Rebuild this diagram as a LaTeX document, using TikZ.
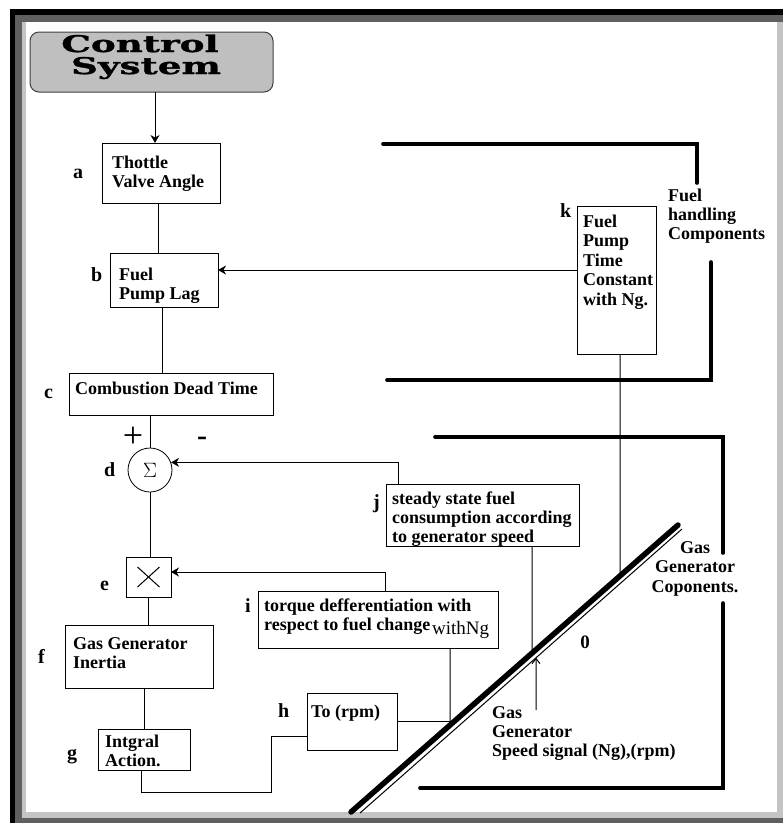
\documentclass[tikz,border=0pt]{standalone}
\usepackage{fontspec}
\setmainfont{Liberation Serif}
\newfontfamily\titlefont[FakeStretch=1.62,FakeBold=1.5]{DejaVu Serif}
\usetikzlibrary{arrows.meta}
\definecolor{fdark}{HTML}{5F5F5F}
\definecolor{flight}{HTML}{C4C4C4}
\definecolor{ttl}{HTML}{BFBFBF}
\begin{document}
\begin{tikzpicture}[x=1pt,y=-1pt,
  box/.style={draw, line width=1pt, inner sep=0pt, outer sep=0pt, anchor=north west},
  txt/.style={anchor=base west, inner sep=0pt, align=left, font=\bfseries\fontsize{18}{19}\selectfont},
  lbl/.style={anchor=base west, inner sep=0pt, font=\bfseries\fontsize{20}{20}\selectfont},
  wire/.style={line width=1pt},
  arr/.style={wire, -{Stealth[length=8pt,width=9pt,inset=2.5pt]}},
  barb/.style={wire, -{Straight Barb[length=5pt,width=8pt]}},
  heavy/.style={line width=3.6pt, line cap=round}]
\useasboundingbox (0,0) rectangle (783,823);
% frame
\fill[white] (0,0) rectangle (783,823);
\fill[fdark] (10,9) rectangle (783,823);
\fill[black] (10,9) rectangle (783,15);
\fill[black] (10,9) rectangle (15,823);
\fill[flight] (22,22) rectangle (783,818);
\fill[white] (26,22) rectangle (777,812);

% title
\node[box, rounded corners=9pt, fill=ttl, draw=black!75, minimum width=243pt, minimum height=60pt] (title) at (30,32) {};
\node[anchor=base, inner sep=0pt, font=\titlefont\bfseries\fontsize{23}{23}\selectfont] (tt1) at (140,52) {Control};
\node[anchor=base, inner sep=0pt, font=\titlefont\bfseries\fontsize{23}{23}\selectfont] (tt2) at (146,74) {System};

% blocks (multi-line text anchored at the baseline of its last line)
\node[box, minimum width=118pt, minimum height=60pt] (a) at (102,143) {};
\node[txt] (ta) at (112,187) {Thottle\\Valve Angle};
\node[lbl] (la) at (73,178) {a};

\node[box, minimum width=108pt, minimum height=54pt] (b) at (110,253) {};
\node[txt] (tb) at (119,299) {Fuel\\Pump Lag};
\node[lbl] (lb) at (91,281) {b};

\node[box, minimum width=204pt, minimum height=42pt] (c) at (69,373) {};
\node[txt] (tc) at (75,394) {Combustion Dead Time};
\node[lbl] (lc) at (44,398) {c};

\node[draw, circle, minimum size=44pt, inner sep=0pt, line width=0.8pt] (d) at (150,470) {};
\node[inner sep=0pt, font=\fontsize{20}{20}\selectfont] (sig) at (150,470) {$\Sigma$};
\node[lbl] (ld) at (104,476) {d};
\node[inner sep=0pt, font=\fontsize{36}{36}\selectfont] (plus) at (133,437) {+};
\node[inner sep=0pt, font=\bfseries\fontsize{30}{30}\selectfont] (minus) at (202,441) {-};

\node[box, minimum width=45pt, minimum height=40pt] (e) at (126,557) {};
\draw[wire] ([shift={(-11,-10)}]e.center) -- ([shift={(11,10)}]e.center);
\draw[wire] ([shift={(-11,10)}]e.center) -- ([shift={(11,-10)}]e.center);
\node[lbl] (le) at (100,590) {e};

\node[box, minimum width=148pt, minimum height=63pt] (f) at (65,625) {};
\node[txt] (tf) at (73,668) {Gas Generator\\Inertia};
\node[lbl] (lf) at (38,663) {f};

\node[box, minimum width=92pt, minimum height=41pt] (g) at (98,729) {};
\node[txt] (tg) at (105,766) {Intgral\\Action.};
\node[lbl] (lg) at (67,759) {g};

\node[box, minimum width=90pt, minimum height=57pt] (h) at (307,693) {};
\node[txt] (th) at (311,717) {To (rpm)};
\node[lbl] (lh) at (278,717) {h};

\node[box, minimum width=240pt, minimum height=57pt] (i) at (258,591) {};
\node[txt] (ti) at (264,630) {torque defferentiation with\\respect to fuel change};
\node[anchor=base west, inner sep=0pt, font=\fontsize{19}{19}\selectfont] (tiw) at (432,634) {withNg};
\node[lbl] (li) at (245,612) {i};

\node[box, minimum width=193pt, minimum height=62pt] (j) at (386,484) {};
\node[txt] (tj) at (392,542) {steady state fuel\\consumption according\\to generator speed};
\node[lbl] (lj) at (373,508) {j};

\node[box, minimum width=79pt, minimum height=148pt] (k) at (577,206) {};
\node[txt, font=\bfseries\fontsize{18}{19.5}\selectfont] (tk) at (583,305) {Fuel\\Pump\\Time\\Constant\\with Ng.};
\node[lbl] (lk) at (560,217) {k};

% group labels
\node[txt] (fh) at (668,239) {Fuel\\handling\\Components};
\node[anchor=base, inner sep=0pt, align=center, font=\bfseries\fontsize{18}{19.5}\selectfont] (gg) at (695,592) {Gas\\Generator\\Coponents.};
\node[anchor=base, inner sep=0pt, font=\bfseries\fontsize{19}{19}\selectfont] (zero) at (585,648) {0};
\node[txt] (sp) at (492,756) {Gas\\Generator\\Speed signal (Ng),(rpm)};

% brackets
\draw[heavy] (383,144) -- (697,144) -- (697,183);
\draw[heavy] (387,380) -- (711,380) -- (711,262);
\draw[heavy] (435,437) -- (723,437) -- (723,553);
\draw[heavy] (723,603) -- (723,788) -- (420,788);

% diagonal
\coordinate (D1) at (351,812);
\coordinate (D2) at (678,525);
\coordinate (E1) at (360,813);
\coordinate (E2) at (682,529);
\draw[line width=5.5pt, line cap=round] (D1) -- (D2);
\draw[line width=1pt] (E1) -- (E2);

% connectors
\coordinate (a_in) at ([xshift=-6pt]a.north);
\draw[arr] (a_in |- title.south) -- (a_in);
\coordinate (a_out) at ([xshift=-3pt]a.south);
\draw[wire] (a_out) -- (a_out |- b.north);
\coordinate (k_out) at ([yshift=10pt]k.west);
\draw[arr] (k_out) -- (k_out -| b.east);
\coordinate (b_out) at ([xshift=-2pt]b.south);
\draw[wire] (b_out) -- (b_out |- c.north);
\draw[wire] (d.north |- c.south) -- (d.north);
\coordinate (j_out) at ([xshift=12pt]j.north west);
\draw[arr] (j_out) |- (d.20);
\draw[wire] (d.south) -- (d.south |- e.north);
\coordinate (i_out) at ([xshift=127pt]i.north west);
\coordinate (e_in) at ([yshift=5pt]e.east);
\draw[arr] (i_out) |- (e_in);
\draw[wire] (e.south) -- (e.south |- f.north);
\draw[wire] (g.north |- f.south) -- (g.north);
\coordinate (g_out) at ([xshift=-3pt]g.south);
\coordinate (gh) at (271,792);
\coordinate (h_in) at ([yshift=-15pt]h.west);
\draw[wire] (g_out) |- (gh) |- (h_in);

\coordinate (i_b) at ([xshift=72pt]i.south);
\coordinate (i_b2) at ([xshift=72pt,yshift=-200pt]i.south);
\coordinate (ix) at (intersection of i_b--i_b2 and D1--D2);
\draw[wire] (i_b) -- (ix);
\draw[wire] (h.east) -- (h.east -| ix);

\coordinate (j_b) at ([xshift=49.5pt]j.south);
\coordinate (j_b2) at ([xshift=49.5pt,yshift=-200pt]j.south);
\coordinate (jx) at (intersection of j_b--j_b2 and D1--D2);
\draw[wire] (j_b) -- (jx);

\coordinate (k_b) at ([xshift=3.5pt]k.south);
\coordinate (k_b2) at ([xshift=3.5pt,yshift=-300pt]k.south);
\coordinate (kx) at (intersection of k_b--k_b2 and D1--D2);
\draw[wire] (k_b) -- (kx);

\coordinate (s0) at (536,710);
\coordinate (s1) at (536,600);
\coordinate (sx) at (intersection of s0--s1 and E1--E2);
\draw[barb] (s0) -- (sx);
\end{tikzpicture}
\end{document}
